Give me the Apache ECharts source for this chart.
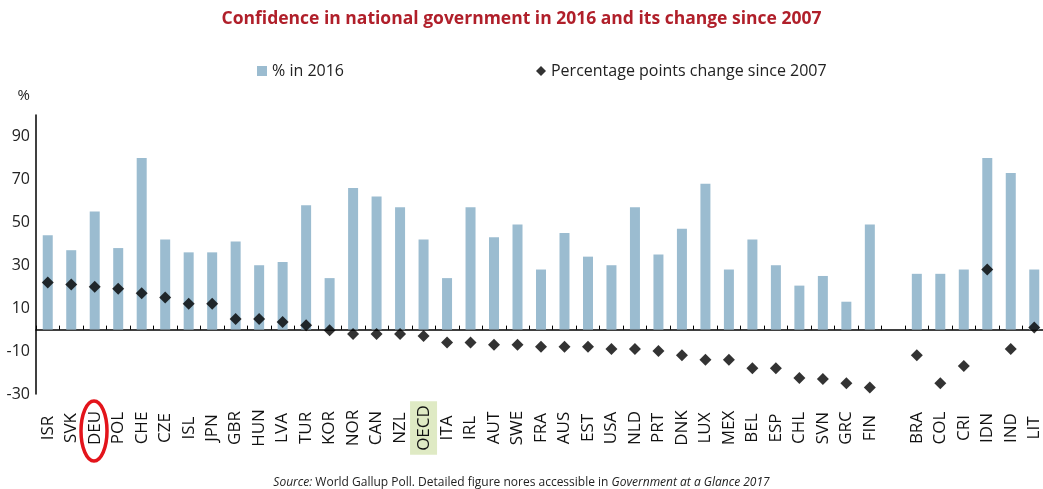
<!DOCTYPE html>
<html>
<head>
    <meta charset="utf-8"/>
    <title>Confidence in national government</title>
    <style type="text/css">
        html, body { margin: 0; padding: 0; background: #fff; }
        #main { width: 1043px; height: 489px; }
    </style>
    <script type="text/javascript" src="https://cdn.jsdelivr.net/npm/echarts@6/dist/echarts.min.js"></script>
</head>
<body>
<div id="main"></div>
<script type="text/javascript">

    // countries (empty slot = gap before the non-OECD group)
    var countries = ['ISR', 'SVK', 'DEU', 'POL', 'CHE', 'CZE', 'ISL', 'JPN', 'GBR', 'HUN', 'LVA', 'TUR',
        'KOR', 'NOR', 'CAN', 'NZL', 'OECD', 'ITA', 'IRL', 'AUT', 'SWE', 'FRA', 'AUS', 'EST', 'USA', 'NLD',
        'PRT', 'DNK', 'LUX', 'MEX', 'BEL', 'ESP', 'CHL', 'SVN', 'GRC', 'FIN', '',
        'BRA', 'COL', 'CRI', 'IDN', 'IND', 'LIT'];

    // % in 2016
    var share2016 = [44, 37, 55, 38, 80, 42, 36, 36, 41, 30, 31.5, 58,
        24, 66, 62, 57, 42, 24, 57, 43, 49, 28, 45, 34, 30, 57,
        35, 47, 68, 28, 42, 30, 20.5, 25, 13, 49, '-',
        26, 26, 28, 80, 73, 28];

    // percentage points change since 2007
    var change2007 = [22, 21, 20, 19, 17, 15, 12, 12, 5, 5, 3.5, 2,
        -0.3, -2, -2, -2, -3, -6, -6, -7, -7, -8, -8, -8, -9, -9,
        -10, -12, -14, -14, -18, -18, -22.5, -23, -25, -27, '-',
        -12, -25, -17, 28, -9, 1];

    var yTicks = [-30, -10, 10, 30, 50, 70, 90];

    var font = 'Open Sans';
    var myChart = echarts.init(document.getElementById('main'));

    var option = {
        animation: false,
        textStyle: { fontFamily: font },
        title: [{
            text: 'Confidence in national government in 2016 and its change since 2007',
            left: 'center',
            top: 5,
            textStyle: { color: '#b01f2a', fontSize: 17.5, fontWeight: 'bold', fontFamily: font }
        }, {
            text: '{i|Source:} World Gallup Poll. Detailed figure nores accessible in {i|Government at a Glance 2017}',
            left: 'center',
            top: 472,
            textStyle: {
                color: '#222', fontSize: 12, fontWeight: 'normal', fontFamily: font,
                rich: { i: { fontStyle: 'italic', fontSize: 12, color: '#222', fontFamily: font } }
            }
        }],
        legend: {
            left: 252,
            top: 58,
            itemGap: 192,
            itemWidth: 10,
            itemHeight: 10,
            textStyle: { fontSize: 16, color: '#222', fontFamily: font },
            data: [
                { name: '% in 2016', icon: 'rect' },
                { name: 'Percentage points change since 2007', icon: 'diamond' }
            ]
        },
        grid: {
            left: 36,
            top: 115,
            width: 1010,
            height: 279,
            containLabel: false,
            outerBoundsMode: 'none'
        },
        xAxis: {
            type: 'category',
            data: countries,
            axisLine: { onZero: true, lineStyle: { color: '#000', width: 1.5 } },
            axisTick: { show: true, inside: true, length: 4, lineStyle: { color: '#000' } },
            axisLabel: {
                interval: 0,
                rotate: 90,
                align: 'center',
                verticalAlign: 'middle',
                margin: 34,
                fontSize: 17,
                color: '#111',
                formatter: function (v) {
                    return v === 'OECD' ? '{o|' + v + '}' : v;
                },
                rich: {
                    o: { backgroundColor: '#dfeac4', padding: [6, 4, 4, 4], fontSize: 17, color: '#111' }
                }
            },
            splitLine: { show: false }
        },
        yAxis: {
            type: 'value',
            min: -30,
            max: 100,
            interval: 20,
            name: '%',
            nameLocation: 'end',
            nameGap: 12,
            nameTextStyle: { fontSize: 15, color: '#222', align: 'right', padding: [0, 6, 0, 0] },
            axisLine: { show: true, lineStyle: { color: '#000', width: 1.5 } },
            axisTick: { show: false },
            splitLine: { show: false },
            axisLabel: {
                fontSize: 16,
                color: '#222',
                margin: 6,
                formatter: function (v) {
                    return yTicks.indexOf(v) >= 0 ? String(v) : '';
                }
            }
        },
        graphic: [{
            type: 'ellipse',
            shape: { cx: 94, cy: 431, rx: 13, ry: 30 },
            style: { fill: 'none', stroke: '#e3141b', lineWidth: 3.5 },
            z: 100
        }],
        series: [{
            name: '% in 2016',
            type: 'bar',
            data: share2016,
            barWidth: 10,
            itemStyle: { color: '#9bbcd0' },
            z: 2
        }, {
            name: 'Percentage points change since 2007',
            type: 'scatter',
            data: change2007,
            symbol: 'diamond',
            symbolSize: 12,
            itemStyle: { color: '#000' },
            z: 3
        }]
    };

    myChart.setOption(option);

</script>
</body>
</html>
